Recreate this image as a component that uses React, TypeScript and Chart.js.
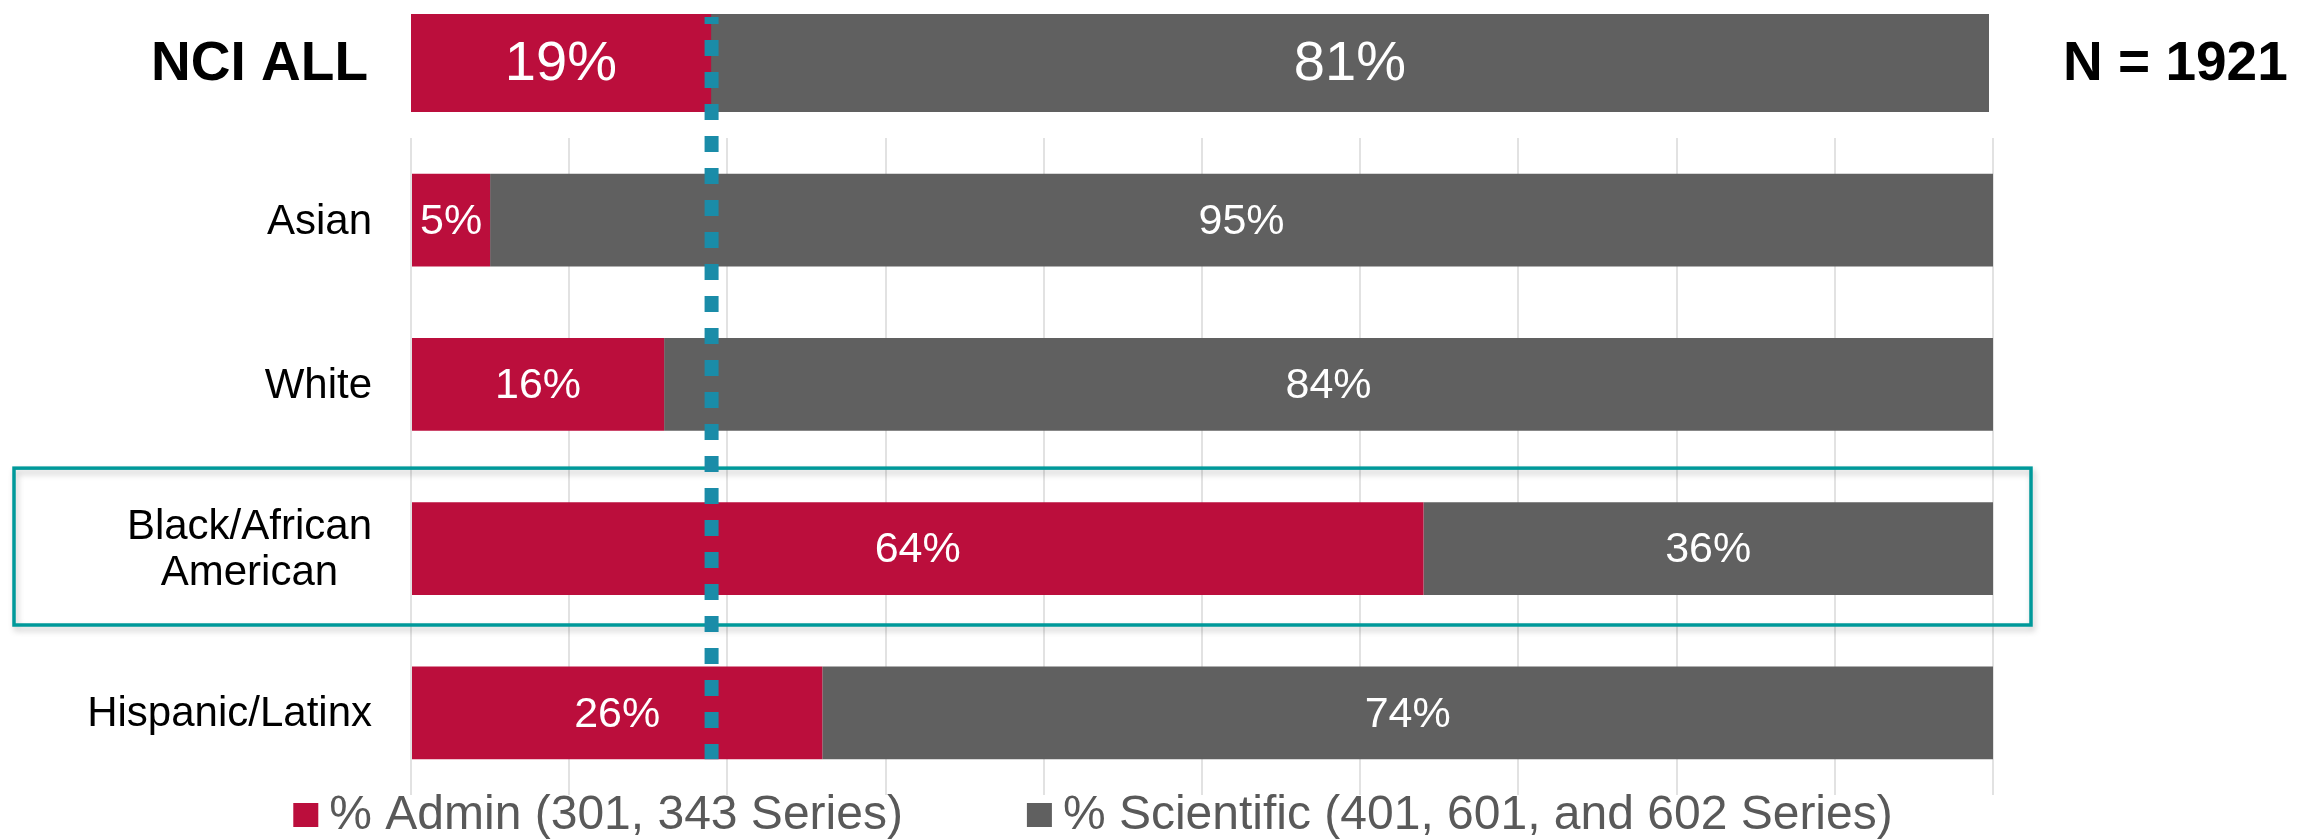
import React, { useEffect, useRef } from "react";
import { Chart, registerables } from "chart.js";

Chart.register(...registerables);

// ---------- data ----------
const groupLabels: string[][] = [["Asian"], ["White"], ["Black/African", "American"], ["Hispanic/Latinx"]];
const adminPct = [5, 16, 64, 26];
const scientificPct = [95, 84, 36, 74];

const overallLabel = "NCI ALL";
const overallAdmin = [19];
const overallScientific = [81];
const overallN = 1921;

const seriesNames = ["% Admin (301, 343 Series)", "% Scientific (401, 601, and 602 Series)"];
const axisMin = 0;
const axisMax = 100;
const axisStep = 10;
const highlightIndex = 2;

// ---------- style ----------
const FONT = "'Liberation Sans', Arial, sans-serif";
const RED = "#BB0E3C";
const GRAY = "#606060";
const TEAL_BOX = "#00999A";
const TEAL_DOT = "#1A8CA8";

const valueLabels = {
  id: "valueLabels",
  afterDatasetsDraw(chart: any, _args: any, opts: any) {
    const ctx = chart.ctx;
    ctx.save();
    ctx.font = `${opts.size}px ${FONT}`;
    ctx.fillStyle = "#ffffff";
    ctx.textAlign = "center";
    ctx.textBaseline = "middle";
    chart.data.datasets.forEach((ds: any, di: number) => {
      const meta = chart.getDatasetMeta(di);
      meta.data.forEach((el: any, i: number) => {
        ctx.fillText(`${ds.data[i]}%`, (el.x + el.base) / 2, el.y + 2);
      });
    });
    ctx.restore();
  },
};

const categoryLabels = {
  id: "categoryLabels",
  afterDraw(chart: any, _args: any, opts: any) {
    const ctx = chart.ctx;
    const yScale = chart.scales.y;
    ctx.save();
    ctx.font = `${opts.bold ? "bold " : ""}${opts.size}px ${FONT}`;
    ctx.fillStyle = "#000000";
    ctx.textBaseline = "middle";
    ctx.textAlign = "center";
    chart.data.labels.forEach((lab: any, i: number) => {
      const lines: string[] = Array.isArray(lab) ? lab : [lab];
      const w = Math.max(...lines.map((l) => ctx.measureText(l).width));
      const cx = opts.right - w / 2;
      const cy = yScale.getPixelForValue(i);
      const lh = opts.size * 1.1;
      lines.forEach((l, k) => {
        ctx.fillText(l, cx, cy + (k - (lines.length - 1) / 2) * lh + 2);
      });
    });
    if (opts.extra) {
      ctx.textAlign = "left";
      ctx.fillText(opts.extra, opts.extraX, yScale.getPixelForValue(0) + 2);
    }
    ctx.restore();
  },
};

const decorations = {
  id: "decorations",
  afterDatasetsDraw(chart: any) {
    const ctx = chart.ctx;
    const x = chart.scales.x;
    const y = chart.scales.y;
    const spacing = y.getPixelForValue(1) - y.getPixelForValue(0);
    // highlight box around one category
    const cy = y.getPixelForValue(highlightIndex);
    ctx.save();
    ctx.strokeStyle = TEAL_BOX;
    ctx.lineWidth = 3.5;
    ctx.shadowColor = "rgba(0,0,0,0.22)";
    ctx.shadowBlur = 6;
    ctx.shadowOffsetX = 2;
    ctx.shadowOffsetY = 4;
    ctx.strokeRect(14, cy - spacing * 0.49, 2017, spacing * 0.955);
    ctx.restore();

    // value labels
    valueLabels.afterDatasetsDraw(chart, null, { size: 43 });

    // dotted reference line at the overall admin share
    const px = x.getPixelForValue(overallAdmin[0]);
    const lastMeta = chart.getDatasetMeta(0).data;
    const lastEl: any = lastMeta[lastMeta.length - 1];
    const bottom = lastEl.y + lastEl.height / 2;
    ctx.save();
    ctx.strokeStyle = TEAL_DOT;
    ctx.lineWidth = 14;
    ctx.lineCap = "butt";
    ctx.setLineDash([16, 16]);
    ctx.lineDashOffset = 9;
    ctx.beginPath();
    ctx.moveTo(px, 17);
    ctx.lineTo(px, bottom);
    ctx.stroke();
    ctx.restore();
  },
  afterDraw(chart: any) {
    // legend
    const ctx = chart.ctx;
    ctx.save();
    ctx.font = `48px ${FONT}`;
    ctx.textBaseline = "middle";
    ctx.textAlign = "left";
    const box = 25;
    const gap = 11;
    const itemSpacing = 124;
    const widths = chart.data.datasets.map((ds: any) => ctx.measureText(ds.label).width);
    const total = widths.reduce((a: number, w: number) => a + box + gap + w, 0) + itemSpacing * (widths.length - 1);
    let cx = 1093 - total / 2;
    const cy = 815;
    chart.data.datasets.forEach((ds: any, i: number) => {
      ctx.fillStyle = ds.backgroundColor;
      ctx.fillRect(cx, cy - 12, box, 24);
      ctx.fillStyle = "#595959";
      ctx.fillText(ds.label, cx + box + gap, cy + 1);
      cx += box + gap + widths[i] + itemSpacing;
    });
    ctx.restore();
  },
};

export default function App() {
  const topRef = useRef<HTMLCanvasElement>(null);
  const botRef = useRef<HTMLCanvasElement>(null);

  useEffect(() => {
    const top = new Chart(topRef.current!, {
      type: "bar",
      data: {
        labels: [overallLabel],
        datasets: [
          { label: seriesNames[0], data: overallAdmin, backgroundColor: RED, barPercentage: 1, categoryPercentage: 1 },
          { label: seriesNames[1], data: overallScientific, backgroundColor: GRAY, barPercentage: 1, categoryPercentage: 1 },
        ],
      },
      options: {
        indexAxis: "y",
        animation: false,
        responsive: false,
        layout: { padding: { left: 411, right: 329, top: 14, bottom: 0 } },
        scales: {
          x: { stacked: true, min: axisMin, max: axisMax, display: false },
          y: { stacked: true, display: false },
        },
        plugins: {
          legend: { display: false },
          tooltip: { enabled: false },
          valueLabels: { size: 56 },
          categoryLabels: { size: 55, bold: true, right: 368, extra: `N = ${overallN}`, extraX: 2063 },
        } as any,
      },
      plugins: [valueLabels, categoryLabels],
    });

    const bot = new Chart(botRef.current!, {
      type: "bar",
      data: {
        labels: groupLabels as any,
        datasets: [
          { label: seriesNames[0], data: adminPct, backgroundColor: RED, barPercentage: 0.566, categoryPercentage: 1 },
          { label: seriesNames[1], data: scientificPct, backgroundColor: GRAY, barPercentage: 0.566, categoryPercentage: 1 },
        ],
      },
      options: {
        indexAxis: "y",
        animation: false,
        responsive: false,
        layout: { padding: { left: 411, right: 325, top: 138, bottom: 45 } },
        scales: {
          x: {
            stacked: true,
            min: axisMin,
            max: axisMax,
            display: true,
            ticks: { display: false, stepSize: axisStep },
            grid: { color: "#E2E2E2", lineWidth: 2, drawTicks: false },
            border: { display: false },
          },
          y: { stacked: true, display: false },
        },
        plugins: {
          legend: { display: false },
          tooltip: { enabled: false },
          categoryLabels: { size: 42, bold: false, right: 372 },
        } as any,
      },
      plugins: [categoryLabels, decorations],
    });

    return () => {
      top.destroy();
      bot.destroy();
    };
  }, []);

  return (
    <div style={{ position: "absolute", left: 0, top: 0, width: 2318, height: 840, background: "#ffffff" }}>
      <canvas ref={topRef} width={2318} height={112} style={{ position: "absolute", left: 0, top: 0 }} />
      <canvas ref={botRef} width={2318} height={840} style={{ position: "absolute", left: 0, top: 0 }} />
    </div>
  );
}
